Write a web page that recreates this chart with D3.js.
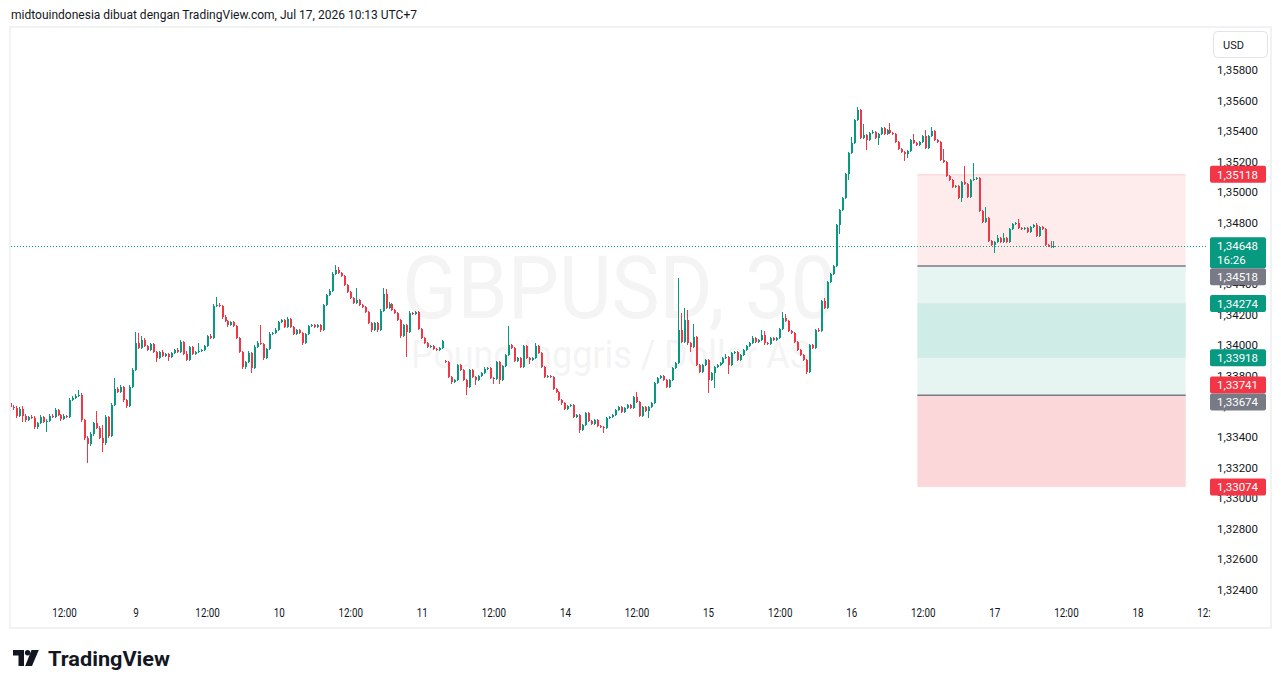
<!DOCTYPE html>
<html>
<head>
<meta charset="utf-8">
<script src="https://cdn.jsdelivr.net/npm/d3@7"></script>
<style>
  body { margin: 0; background: #ffffff; }
  text { font-family: Roboto, "Liberation Sans", Arial, sans-serif; }
</style>
</head>
<body>
<script>
// GBPUSD 30 minute candles, one array per trading day: [open, high, low, close]
var jul08 = [
  [1.33623,1.33636,1.33577,1.33597],[1.33597,1.33610,1.33580,1.33590],[1.33590,1.33600,1.33525,1.33538],
  [1.33538,1.33595,1.33530,1.33584],[1.33584,1.33603,1.33499,1.33538],[1.33538,1.33548,1.33500,1.33512],
  [1.33512,1.33540,1.33505,1.33531],[1.33531,1.33545,1.33515,1.33525],[1.33525,1.33535,1.33455,1.33466],
  [1.33466,1.33500,1.33455,1.33492],[1.33492,1.33545,1.33485,1.33531],[1.33531,1.33540,1.33490,1.33499],
  [1.33499,1.33515,1.33433,1.33505],[1.33505,1.33548,1.33498,1.33538],[1.33538,1.33550,1.33522,1.33531],
  [1.33531,1.33590,1.33525,1.33577],[1.33577,1.33585,1.33535,1.33545],[1.33545,1.33552,1.33508,1.33518],
  [1.33518,1.33548,1.33510,1.33538],[1.33538,1.33546,1.33522,1.33531],[1.33531,1.33655,1.33525,1.33643],
  [1.33643,1.33668,1.33635,1.33656],[1.33656,1.33680,1.33648,1.33669],[1.33669,1.33708,1.33660,1.33675],
  [1.33675,1.33688,1.33500,1.33512],[1.33512,1.33520,1.33380,1.33394],[1.33394,1.33405,1.33231,1.33355],
  [1.33355,1.33430,1.33340,1.33420],[1.33420,1.33500,1.33410,1.33492],[1.33492,1.33571,1.33450,1.33459],
  [1.33459,1.33470,1.33385,1.33394],[1.33394,1.33479,1.33303,1.33361],[1.33361,1.33545,1.33350,1.33531],
  [1.33531,1.33540,1.33395,1.33407],[1.33407,1.33620,1.33398,1.33610],[1.33610,1.33787,1.33600,1.33715],
  [1.33715,1.33725,1.33685,1.33695],[1.33695,1.33740,1.33688,1.33728],[1.33728,1.33736,1.33632,1.33643],
  [1.33643,1.33650,1.33592,1.33603],[1.33603,1.33740,1.33595,1.33728],[1.33728,1.33852,1.33720,1.33839]
];
var jul09 = [
  [1.33839,1.34087,1.33830,1.34015],[1.34015,1.34081,1.33975,1.33983],[1.33983,1.34060,1.33975,1.34035],
  [1.34035,1.34045,1.33988,1.33996],[1.33996,1.34005,1.33960,1.33970],[1.33970,1.34018,1.33962,1.34009],
  [1.34009,1.34018,1.33948,1.33957],[1.33957,1.33965,1.33891,1.33917],[1.33917,1.33965,1.33908,1.33957],
  [1.33957,1.33966,1.33922,1.33930],[1.33930,1.33950,1.33922,1.33943],[1.33943,1.33952,1.33898,1.33924],
  [1.33924,1.33958,1.33916,1.33950],[1.33950,1.33978,1.33942,1.33970],[1.33970,1.33980,1.33948,1.33957],
  [1.33957,1.34032,1.33950,1.34022],[1.34022,1.34030,1.33935,1.33943],[1.33943,1.33960,1.33895,1.33904],
  [1.33904,1.33998,1.33896,1.33989],[1.33989,1.33998,1.33935,1.33943],[1.33943,1.33965,1.33935,1.33957],
  [1.33957,1.34015,1.33950,1.33963],[1.33963,1.33978,1.33955,1.33970],[1.33970,1.34005,1.33962,1.33996],
  [1.33996,1.34070,1.33988,1.34061],[1.34061,1.34072,1.34040,1.34048],[1.34048,1.34268,1.34040,1.34257],
  [1.34257,1.34316,1.34248,1.34264],[1.34264,1.34275,1.34248,1.34257],[1.34257,1.34265,1.34175,1.34185],
  [1.34185,1.34195,1.34150,1.34159],[1.34159,1.34168,1.34120,1.34133],[1.34133,1.34162,1.34125,1.34153],
  [1.34153,1.34162,1.34118,1.34127],[1.34127,1.34135,1.34038,1.34048],[1.34048,1.34055,1.33948,1.33957],
  [1.33957,1.33965,1.33845,1.33858],[1.33858,1.33900,1.33848,1.33891],[1.33891,1.33960,1.33882,1.33950],
  [1.33950,1.33958,1.33819,1.33852],[1.33852,1.34000,1.33845,1.33989],[1.33989,1.34025,1.33980,1.34015],
  [1.34015,1.34133,1.34000,1.34009],[1.34009,1.34018,1.33905,1.33917],[1.33917,1.33985,1.33908,1.33976],
  [1.33976,1.34085,1.33968,1.34074],[1.34074,1.34090,1.34065,1.34081],[1.34081,1.34110,1.34072,1.34100]
];
var jul10 = [
  [1.34100,1.34162,1.34092,1.34153],[1.34153,1.34175,1.34145,1.34166],[1.34166,1.34175,1.34110,1.34120],
  [1.34120,1.34182,1.34112,1.34172],[1.34172,1.34180,1.34110,1.34120],[1.34120,1.34128,1.34065,1.34074],
  [1.34074,1.34108,1.34066,1.34100],[1.34100,1.34108,1.34072,1.34081],[1.34081,1.34090,1.34005,1.34015],
  [1.34015,1.34082,1.34008,1.34074],[1.34074,1.34135,1.34066,1.34127],[1.34127,1.34142,1.34120,1.34133],
  [1.34133,1.34140,1.34112,1.34120],[1.34120,1.34142,1.34112,1.34133],[1.34133,1.34140,1.34090,1.34100],
  [1.34100,1.34272,1.34092,1.34264],[1.34264,1.34338,1.34255,1.34329],[1.34329,1.34365,1.34320,1.34355],
  [1.34355,1.34478,1.34348,1.34467],[1.34467,1.34526,1.34458,1.34493],[1.34493,1.34510,1.34465,1.34473],
  [1.34473,1.34482,1.34445,1.34454],[1.34454,1.34462,1.34386,1.34395],[1.34395,1.34402,1.34340,1.34349],
  [1.34349,1.34358,1.34300,1.34310],[1.34310,1.34318,1.34268,1.34277],[1.34277,1.34375,1.34268,1.34297],
  [1.34297,1.34305,1.34255,1.34264],[1.34264,1.34272,1.34242,1.34251],[1.34251,1.34260,1.34208,1.34218],
  [1.34218,1.34226,1.34136,1.34146],[1.34146,1.34155,1.34090,1.34100],[1.34100,1.34155,1.34092,1.34146],
  [1.34146,1.34155,1.34090,1.34100],[1.34100,1.34235,1.34092,1.34225],[1.34225,1.34375,1.34218,1.34336],
  [1.34336,1.34365,1.34235,1.34244],[1.34244,1.34280,1.34236,1.34270],[1.34270,1.34278,1.34222,1.34231],
  [1.34231,1.34240,1.34203,1.34212],[1.34212,1.34220,1.34156,1.34166],[1.34166,1.34175,1.34050,1.34061],
  [1.34061,1.34142,1.34052,1.34133],[1.34133,1.34142,1.33924,1.34087],[1.34087,1.34222,1.34078,1.34212],
  [1.34212,1.34220,1.34196,1.34205],[1.34205,1.34226,1.34198,1.34218],[1.34218,1.34226,1.34098,1.34107]
];
var jul11 = [
  [1.34107,1.34115,1.34040,1.34048],[1.34048,1.34056,1.34006,1.34015],[1.34015,1.34022,1.33980,1.33989],
  [1.33989,1.34005,1.33982,1.33996],[1.33996,1.34004,1.33968,1.33976],[1.33976,1.33984,1.33962,1.33970],
  [1.33970,1.33990,1.33962,1.33983],[1.33983,1.34036,1.33975,1.34028],[1.33898,1.33905,1.33884,1.33891],
  [1.33891,1.33898,1.33784,1.33793],[1.33793,1.33800,1.33750,1.33760],[1.33760,1.33782,1.33752,1.33773],
  [1.33773,1.33880,1.33765,1.33872],[1.33872,1.33880,1.33830,1.33839],[1.33839,1.33846,1.33765,1.33773],
  [1.33773,1.33780,1.33675,1.33728],[1.33728,1.33848,1.33720,1.33839],[1.33839,1.33846,1.33785,1.33793],
  [1.33793,1.33800,1.33740,1.33773],[1.33773,1.33808,1.33765,1.33800],[1.33800,1.33828,1.33792,1.33819],
  [1.33819,1.33855,1.33812,1.33845],[1.33845,1.33860,1.33838,1.33852],[1.33852,1.33860,1.33778,1.33786],
  [1.33786,1.33795,1.33750,1.33780],[1.33780,1.33900,1.33772,1.33891],[1.33891,1.33900,1.33750,1.33773],
  [1.33773,1.33872,1.33765,1.33865],[1.33865,1.33945,1.33858,1.33937],[1.33937,1.34127,1.33930,1.34002],
  [1.34002,1.34010,1.33975,1.33983],[1.33983,1.33990,1.33890,1.33898],[1.33898,1.33925,1.33890,1.33917],
  [1.33917,1.33925,1.33850,1.33858],[1.33858,1.34005,1.33850,1.33996],[1.33996,1.34005,1.33908,1.33917],
  [1.33917,1.33925,1.33880,1.33904],[1.33904,1.33925,1.33896,1.33917],[1.33917,1.34015,1.33908,1.33996],
  [1.33996,1.34004,1.33942,1.33950],[1.33950,1.33958,1.33850,1.33858],[1.33858,1.33866,1.33785,1.33793],
  [1.33793,1.33808,1.33785,1.33800],[1.33800,1.33808,1.33785,1.33793],[1.33793,1.33800,1.33705,1.33715],
  [1.33715,1.33722,1.33685,1.33695],[1.33695,1.33702,1.33635,1.33643],[1.33643,1.33650,1.33612,1.33623]
];
var jul14 = [
  [1.33623,1.33630,1.33575,1.33584],[1.33584,1.33612,1.33576,1.33603],[1.33603,1.33618,1.33595,1.33610],
  [1.33610,1.33618,1.33522,1.33531],[1.33531,1.33552,1.33524,1.33545],[1.33545,1.33552,1.33427,1.33446],
  [1.33446,1.33486,1.33438,1.33479],[1.33479,1.33566,1.33470,1.33558],[1.33558,1.33566,1.33497,1.33505],
  [1.33505,1.33512,1.33478,1.33486],[1.33486,1.33520,1.33478,1.33512],[1.33512,1.33520,1.33465,1.33473],
  [1.33473,1.33480,1.33458,1.33466],[1.33466,1.33474,1.33427,1.33459],[1.33459,1.33532,1.33450,1.33525],
  [1.33525,1.33540,1.33518,1.33531],[1.33531,1.33552,1.33522,1.33545],[1.33545,1.33585,1.33538,1.33577],
  [1.33577,1.33605,1.33568,1.33597],[1.33597,1.33606,1.33555,1.33564],[1.33564,1.33598,1.33556,1.33590],
  [1.33590,1.33618,1.33582,1.33610],[1.33610,1.33618,1.33582,1.33590],[1.33590,1.33670,1.33582,1.33662],
  [1.33662,1.33695,1.33622,1.33630],[1.33630,1.33638,1.33530,1.33538],[1.33538,1.33605,1.33530,1.33597],
  [1.33597,1.33604,1.33562,1.33571],[1.33571,1.33605,1.33525,1.33597],[1.33597,1.33630,1.33590,1.33623],
  [1.33623,1.33762,1.33615,1.33754],[1.33754,1.33794,1.33746,1.33786],[1.33786,1.33808,1.33778,1.33800],
  [1.33800,1.33808,1.33765,1.33773],[1.33773,1.33780,1.33720,1.33728],[1.33728,1.33780,1.33720,1.33773],
  [1.33773,1.33860,1.33765,1.33852],[1.33852,1.33893,1.33845,1.33885],[1.33885,1.34440,1.33878,1.34100],
  [1.34100,1.34212,1.34014,1.34022],[1.34022,1.34244,1.34014,1.34166],[1.34166,1.34230,1.34005,1.34015],
  [1.34015,1.34022,1.33957,1.33989],[1.33989,1.34140,1.33980,1.34055],[1.34055,1.34062,1.33865,1.33872],
  [1.33872,1.33880,1.33818,1.33826],[1.33826,1.33880,1.33818,1.33872],[1.33872,1.33912,1.33865,1.33904]
];
var jul15 = [
  [1.33904,1.33912,1.33689,1.33773],[1.33773,1.33826,1.33765,1.33819],[1.33819,1.33866,1.33721,1.33858],
  [1.33858,1.33880,1.33850,1.33872],[1.33872,1.33893,1.33865,1.33885],[1.33885,1.33925,1.33878,1.33917],
  [1.33917,1.33945,1.33910,1.33924],[1.33924,1.33932,1.33813,1.33872],[1.33872,1.33958,1.33865,1.33950],
  [1.33950,1.33965,1.33942,1.33957],[1.33957,1.33965,1.33896,1.33904],[1.33904,1.33945,1.33896,1.33937],
  [1.33937,1.33978,1.33930,1.33970],[1.33970,1.34005,1.33962,1.33996],[1.33996,1.34022,1.33988,1.34015],
  [1.34015,1.34060,1.34008,1.34048],[1.34048,1.34056,1.34014,1.34022],[1.34022,1.34043,1.34014,1.34035],
  [1.34035,1.34100,1.34028,1.34068],[1.34068,1.34095,1.34005,1.34015],[1.34015,1.34022,1.34000,1.34009],
  [1.34009,1.34056,1.34000,1.34048],[1.34048,1.34055,1.34026,1.34035],[1.34035,1.34056,1.34028,1.34048],
  [1.34048,1.34115,1.34040,1.34107],[1.34107,1.34215,1.34100,1.34179],[1.34179,1.34205,1.34150,1.34159],
  [1.34159,1.34166,1.34085,1.34094],[1.34094,1.34102,1.34072,1.34081],[1.34081,1.34088,1.34014,1.34022],
  [1.34022,1.34030,1.33962,1.33970],[1.33970,1.33978,1.33928,1.33937],[1.33937,1.33945,1.33895,1.33904],
  [1.33904,1.33912,1.33813,1.33826],[1.33826,1.34010,1.33818,1.34002],[1.34002,1.34010,1.33975,1.33983],
  [1.33983,1.34108,1.33975,1.34100],[1.34100,1.34115,1.34085,1.34094],[1.34094,1.34298,1.34086,1.34290],
  [1.34290,1.34310,1.34236,1.34244],[1.34244,1.34422,1.34236,1.34414],[1.34414,1.34475,1.34406,1.34467],
  [1.34467,1.34527,1.34460,1.34519],[1.34519,1.34795,1.34512,1.34787],[1.34787,1.34893,1.34730,1.34885],
  [1.34885,1.34972,1.34877,1.34964],[1.34964,1.35129,1.34956,1.35121],[1.35121,1.35266,1.35080,1.35258]
];
var jul16 = [
  [1.35258,1.35365,1.35250,1.35323],[1.35323,1.35482,1.35315,1.35474],[1.35474,1.35558,1.35466,1.35539],
  [1.35539,1.35545,1.35348,1.35356],[1.35356,1.35447,1.35348,1.35376],[1.35376,1.35384,1.35278,1.35343],
  [1.35343,1.35397,1.35335,1.35389],[1.35389,1.35405,1.35382,1.35395],[1.35395,1.35403,1.35348,1.35356],
  [1.35356,1.35390,1.35310,1.35382],[1.35382,1.35430,1.35374,1.35421],[1.35421,1.35428,1.35374,1.35382],
  [1.35382,1.35415,1.35374,1.35408],[1.35408,1.35453,1.35380,1.35389],[1.35389,1.35396,1.35374,1.35382],
  [1.35382,1.35390,1.35322,1.35330],[1.35330,1.35338,1.35276,1.35284],[1.35284,1.35292,1.35258,1.35265],
  [1.35265,1.35272,1.35205,1.35251],[1.35251,1.35278,1.35225,1.35271],[1.35271,1.35351,1.35264,1.35343],
  [1.35343,1.35382,1.35315,1.35323],[1.35323,1.35330,1.35302,1.35310],[1.35310,1.35338,1.35302,1.35330],
  [1.35330,1.35377,1.35322,1.35369],[1.35369,1.35410,1.35284,1.35291],[1.35291,1.35377,1.35284,1.35369],
  [1.35369,1.35430,1.35362,1.35402],[1.35402,1.35410,1.35335,1.35343],[1.35343,1.35350,1.35322,1.35330],
  [1.35330,1.35338,1.35204,1.35212],[1.35212,1.35284,1.35190,1.35199],[1.35199,1.35206,1.35100,1.35108],
  [1.35108,1.35115,1.35072,1.35081],[1.35081,1.35088,1.35028,1.35036],[1.35036,1.35050,1.35028,1.35042],
  [1.35042,1.35050,1.34955,1.34964],[1.34964,1.35076,1.34937,1.35068],[1.35068,1.35173,1.35048,1.35055],
  [1.35055,1.35062,1.34962,1.34970],[1.34970,1.35088,1.34962,1.35081],[1.35081,1.35193,1.35074,1.35088],
  [1.35088,1.35102,1.35080,1.35094],[1.35094,1.35102,1.34870,1.34879],[1.34879,1.34886,1.34800,1.34807],
  [1.34807,1.34904,1.34800,1.34833],[1.34833,1.34840,1.34674,1.34682],[1.34682,1.34690,1.34648,1.34656]
];
var jul17 = [
  [1.34656,1.34684,1.34604,1.34676],[1.34676,1.34722,1.34668,1.34702],[1.34702,1.34710,1.34668,1.34676],
  [1.34676,1.34735,1.34668,1.34702],[1.34702,1.34710,1.34668,1.34676],[1.34676,1.34768,1.34668,1.34761],
  [1.34761,1.34802,1.34754,1.34794],[1.34794,1.34808,1.34786,1.34800],[1.34800,1.34825,1.34760,1.34767],
  [1.34767,1.34774,1.34754,1.34761],[1.34761,1.34774,1.34754,1.34767],[1.34767,1.34774,1.34733,1.34741],
  [1.34741,1.34782,1.34733,1.34774],[1.34774,1.34795,1.34767,1.34787],[1.34787,1.34800,1.34708,1.34715],
  [1.34715,1.34782,1.34708,1.34774],[1.34774,1.34782,1.34754,1.34761],[1.34761,1.34768,1.34648,1.34656],
  [1.34656,1.34663,1.34642,1.34649],[1.34649,1.34680,1.34636,1.34643],[1.34643,1.34682,1.34636,1.34648]
];

// axis ticks
var priceTicks = [1.324,1.326,1.328,1.330,1.332,1.334,1.336,1.338,1.340,1.342,1.344,1.346,1.348,1.350,1.352,1.354,1.356,1.358];
var timeTickBars = [18,42,66,90,114,138,162,186,210,234,258,282,306,330,354,378,402];
var timeTickLabels = ["12:00","9","12:00","10","12:00","11","12:00","14","12:00","15","12:00","16","12:00","17","12:00","18","12:00"];

// long / short position tools drawn on the chart
var toolBars = [304, 394];
var shortPos = {entry: 1.34518, stop: 1.35118, target: 1.33918};
var longPos = {entry: 1.33674, stop: 1.33074, target: 1.34274};

// labels on the price scale
var lastPrice = 1.34648;
var countdown = "16:26";
var axisLabelPrices = [1.35118, 1.34648, 1.34518, 1.34274, 1.33918, 1.33741, 1.33674, 1.33074];
var axisLabelKinds = ["down", "last", "entry", "up", "up", "down", "entry", "down"];

var UP = "#089981", DOWN = "#F23645", GREY = "#787B86", TEXT = "#131722";

var bars = [].concat(jul08, jul09, jul10, jul11, jul14, jul15, jul16, jul17);

var svg = d3.select("body").append("svg")
  .attr("width", 1281)
  .attr("height", 688);

var paneLeft = 11, paneRight = 1207, paneTop = 28, paneBottom = 600;

var x = d3.scaleLinear().domain([0, 400]).range([10.8, 1203.6]);
var y = d3.scaleLinear().domain([1.324, 1.358]).range([590, 70]);

function fmt(v) { return d3.format(".5f")(v).replace(".", ","); }

// header line
svg.append("text")
  .attr("x", 11).attr("y", 18.5)
  .attr("font-size", 12)
  .attr("fill", TEXT)
  .attr("textLength", 406)
  .attr("lengthAdjust", "spacingAndGlyphs")
  .text("midtouindonesia dibuat dengan TradingView.com, Jul 17, 2026 10:13 UTC+7");

// chart frame
svg.append("rect")
  .attr("x", 10).attr("y", 27)
  .attr("width", 1261).attr("height", 601)
  .attr("fill", "none")
  .attr("stroke", "#EDEEF1")
  .attr("stroke-width", 1.5);

var clip = svg.append("clipPath").attr("id", "pane");
clip.append("rect").attr("x", paneLeft).attr("y", paneTop)
  .attr("width", paneRight - paneLeft).attr("height", paneBottom - paneTop);

var pane = svg.append("g").attr("clip-path", "url(#pane)");

// watermark
pane.append("text")
  .attr("x", 402).attr("y", 318)
  .attr("font-size", 88)
  .attr("fill", "#F4F4F5")
  .attr("textLength", 434)
  .attr("lengthAdjust", "spacingAndGlyphs")
  .text("GBPUSD, 30");
pane.append("text")
  .attr("x", 411).attr("y", 368)
  .attr("font-size", 39)
  .attr("fill", "#F4F4F5")
  .attr("textLength", 400)
  .attr("lengthAdjust", "spacingAndGlyphs")
  .text("Pound Inggris / Dollar AS");

// position tools
var tx0 = x(toolBars[0]), tx1 = x(toolBars[1]);
function zone(p1, p2, fill) {
  pane.append("rect")
    .attr("x", tx0).attr("width", tx1 - tx0)
    .attr("y", y(Math.max(p1, p2)))
    .attr("height", Math.abs(y(p1) - y(p2)))
    .attr("fill", fill);
}
zone(shortPos.entry, shortPos.stop, "rgba(242,54,69,0.1)");
zone(shortPos.entry, shortPos.target, "rgba(8,153,129,0.1)");
zone(longPos.entry, longPos.target, "rgba(8,153,129,0.1)");
zone(longPos.entry, longPos.stop, "rgba(242,54,69,0.2)");
pane.append("line")
  .attr("x1", tx0).attr("x2", tx1)
  .attr("y1", y(shortPos.stop) + 0.5).attr("y2", y(shortPos.stop) + 0.5)
  .attr("stroke", "rgba(242,54,69,0.15)");
[shortPos.entry, longPos.entry].forEach(function(p) {
  pane.append("line")
    .attr("x1", tx0).attr("x2", tx1)
    .attr("y1", y(p)).attr("y2", y(p))
    .attr("stroke", GREY)
    .attr("stroke-width", 1.5);
});

// candles
var candles = pane.append("g").attr("shape-rendering", "crispEdges");
candles.selectAll(".wick")
  .data(bars)
  .enter().append("rect")
  .attr("class", "wick")
  .attr("x", function(d, i) { return Math.round(x(i)) - 1; })
  .attr("width", 1)
  .attr("y", function(d) { return y(d[1]); })
  .attr("height", function(d) { return Math.max(1, y(d[2]) - y(d[1])); })
  .attr("fill", function(d) { return d[3] >= d[0] ? UP : DOWN; });
candles.selectAll(".body")
  .data(bars)
  .enter().append("rect")
  .attr("class", "body")
  .attr("x", function(d, i) { return Math.round(x(i)) - 1; })
  .attr("width", 2)
  .attr("y", function(d) { return y(Math.max(d[0], d[3])); })
  .attr("height", function(d) { return Math.max(1, Math.abs(y(d[0]) - y(d[3]))); })
  .attr("fill", function(d) { return d[3] >= d[0] ? UP : DOWN; });

// last price line
pane.append("line")
  .attr("x1", paneLeft).attr("x2", paneRight)
  .attr("y1", Math.round(y(lastPrice)) + 0.5).attr("y2", Math.round(y(lastPrice)) + 0.5)
  .attr("stroke", UP)
  .attr("stroke-dasharray", "1,2");

// price scale
svg.append("g").selectAll("text")
  .data(priceTicks)
  .enter().append("text")
  .attr("x", 1217)
  .attr("y", function(d) { return y(d) + 4; })
  .attr("font-size", 11.5)
  .attr("fill", TEXT)
  .text(fmt);

// USD button
svg.append("rect")
  .attr("x", 1213.5).attr("y", 31.5)
  .attr("width", 54).attr("height", 26).attr("rx", 4)
  .attr("fill", "#fff").attr("stroke", "#E0E3EB");
svg.append("text")
  .attr("x", 1223).attr("y", 48.5)
  .attr("font-size", 11)
  .attr("fill", TEXT)
  .text("USD");

// price scale labels, pushed apart so they do not overlap
var labels = axisLabelPrices.map(function(p, i) {
  var kind = axisLabelKinds[i];
  var h = kind === "last" ? 31 : 17;
  var top = kind === "last" ? y(p) - 9 : y(p) - 8.5;
  return {price: p, kind: kind, top: top, h: h};
});
labels.sort(function(a, b) { return a.top - b.top; });
for (var k = 1; k < labels.length; k++) {
  var prev = labels[k - 1];
  if (labels[k].top < prev.top + prev.h) labels[k].top = prev.top + prev.h;
}
var labelColor = {down: DOWN, up: UP, last: UP, entry: GREY};
var lab = svg.append("g").selectAll("g")
  .data(labels)
  .enter().append("g")
  .attr("transform", function(d) { return "translate(1210," + d.top + ")"; });
lab.append("rect")
  .attr("width", 56)
  .attr("height", function(d) { return d.h; })
  .attr("rx", 2)
  .attr("fill", function(d) { return labelColor[d.kind]; });
lab.append("text")
  .attr("x", 7).attr("y", 12.8)
  .attr("font-size", 11.5)
  .attr("fill", "#fff")
  .text(function(d) { return fmt(d.price); });
lab.filter(function(d) { return d.kind === "last"; })
  .append("text")
  .attr("x", 7).attr("y", 27)
  .attr("font-size", 11.5)
  .attr("fill", "#fff")
  .text(countdown);

// time scale
var timeClip = svg.append("clipPath").attr("id", "timeaxis");
timeClip.append("rect").attr("x", paneLeft).attr("y", paneBottom)
  .attr("width", 1211 - paneLeft).attr("height", 27);
svg.append("g").attr("clip-path", "url(#timeaxis)")
  .selectAll("g")
  .data(timeTickBars)
  .enter().append("g")
  .attr("transform", function(d) { return "translate(" + x(d) + ",617)"; })
  .append("text")
  .attr("text-anchor", "middle")
  .attr("transform", "scale(0.82,1)")
  .attr("font-size", 12)
  .attr("fill", TEXT)
  .text(function(d, i) { return timeTickLabels[i]; });

// TradingView logo
var logo = svg.append("g").attr("fill", TEXT);
logo.append("path").attr("d", "M13,650 H24 V666 H18.5 V655.5 H13 Z");
logo.append("circle").attr("cx", 27.6).attr("cy", 652.8).attr("r", 2.7);
logo.append("path").attr("d", "M31.5,650 H38.8 L32,666 H25.2 Z");
logo.append("text")
  .attr("x", 48).attr("y", 666)
  .attr("font-size", 21)
  .attr("font-weight", "bold")
  .attr("textLength", 122)
  .attr("lengthAdjust", "spacingAndGlyphs")
  .text("TradingView");
</script>
</body>
</html>
